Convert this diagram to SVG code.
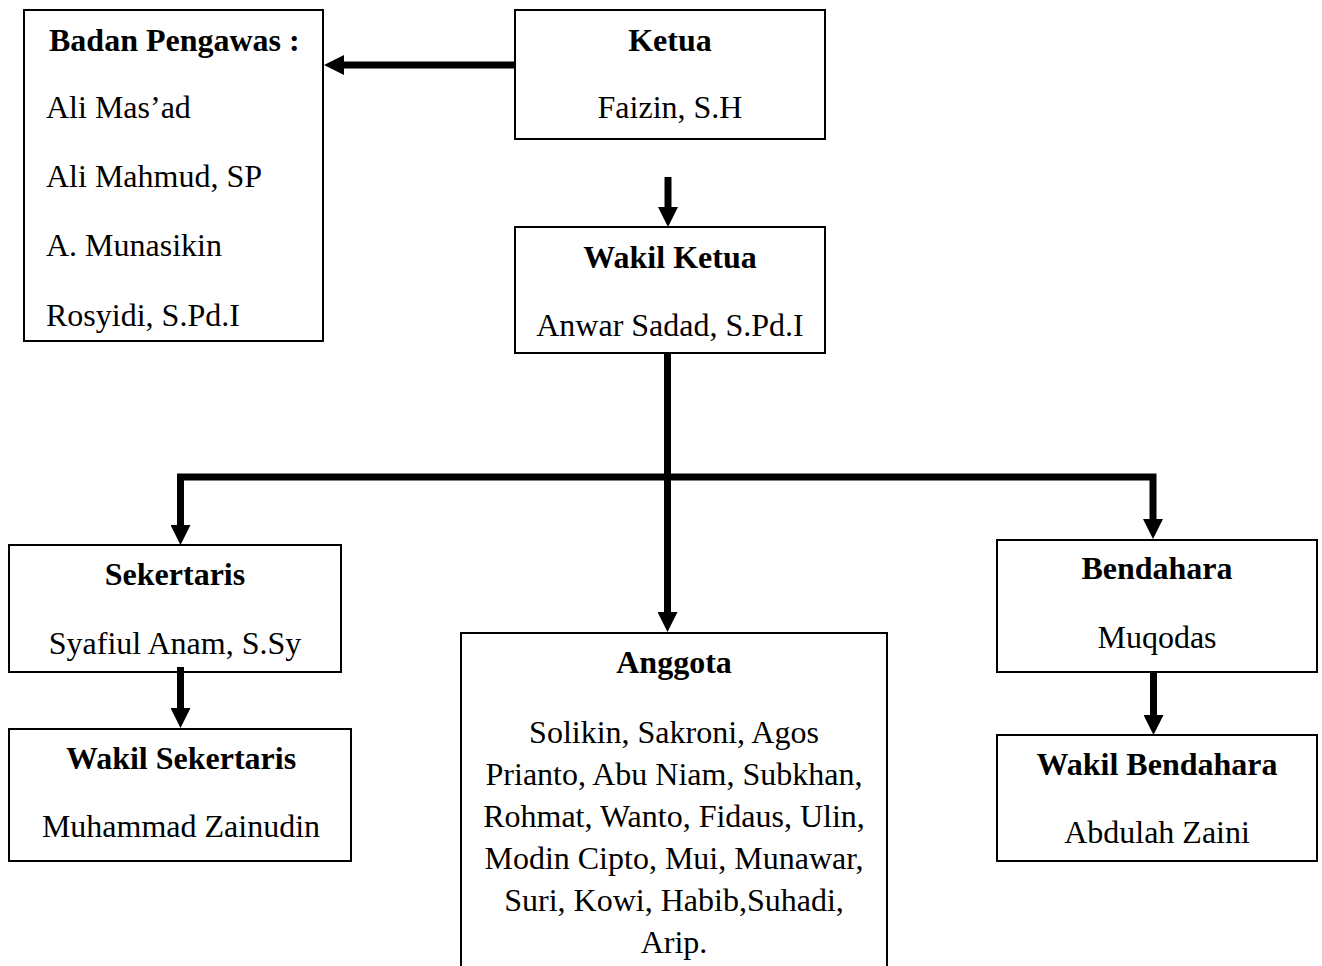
<svg xmlns="http://www.w3.org/2000/svg" width="1322" height="966" viewBox="0 0 1322 966">
<style>
.box{fill:#fff;stroke:#000;stroke-width:2}
.t{font-family:"Liberation Serif","Times New Roman",serif;font-size:32px;fill:#000}
.c{text-anchor:middle}
.b{font-weight:bold}
.con{fill:none;stroke:#000;stroke-width:7;stroke-linejoin:miter;stroke-linecap:butt}
</style>
<defs>
<marker id="ah" markerUnits="userSpaceOnUse" markerWidth="20" markerHeight="20" refX="0" refY="10" orient="auto-start-reverse" viewBox="0 0 20 20">
<path d="M0,0 L20,10 L0,20 z" fill="#000"/>
</marker>
</defs>
<rect width="1322" height="966" fill="#fff"/>
<g id="badan-pengawas">
<rect class="box" x="24" y="10" width="299" height="331"/>
<text class="t b" x="49" y="51">Badan Pengawas :</text>
<text class="t" x="46" y="118">Ali Mas’ad</text>
<text class="t" x="46" y="187">Ali Mahmud, SP</text>
<text class="t" x="46" y="256">A. Munasikin</text>
<text class="t" x="46" y="326">Rosyidi, S.Pd.I</text>
</g>
<g id="ketua">
<rect class="box" x="515" y="10" width="310" height="129"/>
<text class="t b c" x="670" y="51">Ketua</text>
<text class="t c" x="670" y="118">Faizin, S.H</text>
</g>
<g id="wakil-ketua">
<rect class="box" x="515" y="227" width="310" height="126"/>
<text class="t b c" x="670" y="268">Wakil Ketua</text>
<text class="t c" x="670" y="336">Anwar Sadad, S.Pd.I</text>
</g>
<g id="sekertaris">
<rect class="box" x="9" y="545" width="332" height="127"/>
<text class="t b c" x="175" y="585">Sekertaris</text>
<text class="t c" x="175" y="654">Syafiul Anam, S.Sy</text>
</g>
<g id="wakil-sekertaris">
<rect class="box" x="9" y="729" width="342" height="132"/>
<text class="t b c" x="181" y="769">Wakil Sekertaris</text>
<text class="t c" x="181" y="837">Muhammad Zainudin</text>
</g>
<g id="anggota">
<rect class="box" x="461" y="633" width="426" height="360"/>
<text class="t b c" x="674" y="673">Anggota</text>
<text class="t c" x="674" y="743">Solikin, Sakroni, Agos</text>
<text class="t c" x="674" y="785">Prianto, Abu Niam, Subkhan,</text>
<text class="t c" x="674" y="827">Rohmat, Wanto, Fidaus, Ulin,</text>
<text class="t c" x="674" y="869">Modin Cipto, Mui, Munawar,</text>
<text class="t c" x="674" y="911">Suri, Kowi, Habib,Suhadi,</text>
<text class="t c" x="674" y="953">Arip.</text>
</g>
<g id="bendahara">
<rect class="box" x="997" y="540" width="320" height="132"/>
<text class="t b c" x="1157" y="579">Bendahara</text>
<text class="t c" x="1157" y="648">Muqodas</text>
</g>
<g id="wakil-bendahara">
<rect class="box" x="997" y="735" width="320" height="126"/>
<text class="t b c" x="1157" y="775">Wakil Bendahara</text>
<text class="t c" x="1157" y="843">Abdulah Zaini</text>
</g>
<g id="connectors">
<path class="con" d="M515,65 H344" marker-end="url(#ah)"/>
<path class="con" d="M668,177 V207" marker-end="url(#ah)"/>
<path class="con" d="M667.5,353 V612" marker-end="url(#ah)"/>
<path class="con" d="M180.5,525 V477 H1153 V519" marker-start="url(#ah)" marker-end="url(#ah)"/>
<path class="con" d="M180.5,667 V708" marker-end="url(#ah)"/>
<path class="con" d="M1153.5,673 V715" marker-end="url(#ah)"/>
</g>
</svg>
